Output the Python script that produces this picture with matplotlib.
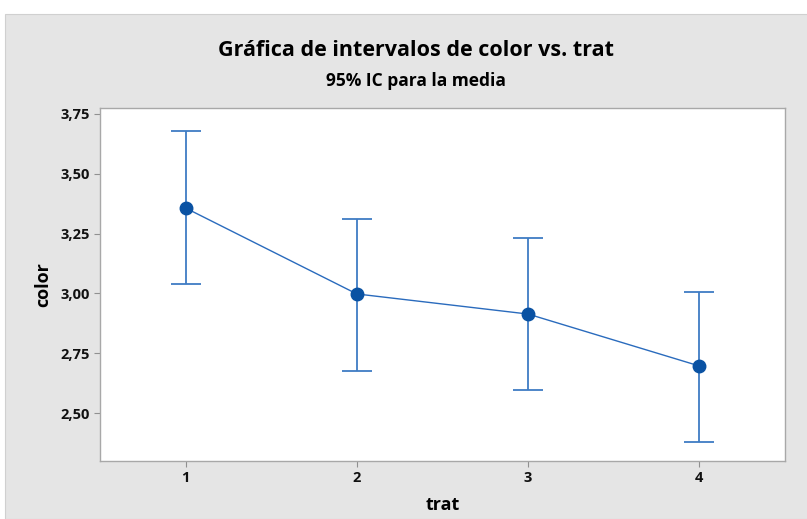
import matplotlib
matplotlib.use('Agg')
import matplotlib.pyplot as plt
import matplotlib.patches as mpatches

# Interval plot: mean of color per treatment with 95% CI
trat = [1, 2, 3, 4]
means = [3.357, 2.998, 2.914, 2.697]
ci_lower = [3.039, 2.678, 2.596, 2.379]
ci_upper = [3.677, 3.312, 3.233, 3.008]
yticks = [2.50, 2.75, 3.00, 3.25, 3.50, 3.75]

plt.rcParams['font.family'] = ['Open Sans', 'DejaVu Sans']

fig = plt.figure(figsize=(8.07, 5.19), dpi=100, facecolor='white')
fig.patches.append(mpatches.Rectangle((5 / 807, 0), 1, 1 - 14 / 519,
                                      transform=fig.transFigure,
                                      facecolor='#e5e5e5', edgecolor='#d0d0d0',
                                      linewidth=0.8, zorder=-5))

ax = fig.add_axes([100 / 807, 1 - 461 / 519, 685 / 807, 353 / 519])
ax.set_facecolor('white')

err_low = [m - lo for m, lo in zip(means, ci_lower)]
err_high = [hi - m for m, hi in zip(means, ci_upper)]
ax.errorbar(trat, means, yerr=[err_low, err_high], fmt='none',
            ecolor='#3f7cc4', elinewidth=1.3, capsize=11, capthick=1.3, zorder=2)
ax.plot(trat, means, color='#2a6bbd', linewidth=1.0, zorder=3)
ax.plot(trat, means, 'o', color='#0a52a3', markersize=9, zorder=4)

ax.set_xlim(0.5, 4.5)
ax.set_ylim(2.30, 3.775)
ax.set_xticks(trat)
ax.set_xticklabels([str(t) for t in trat])
ax.set_yticks(yticks)
ax.set_yticklabels([f"{v:.2f}".replace('.', ',') for v in yticks])

for s in ax.spines.values():
    s.set_color('#a8a8a8')
    s.set_linewidth(1.0)
ax.tick_params(direction='out', length=4, color='#909090', labelsize=10.5,
               labelcolor='#111111', pad=3)
for lbl in ax.get_xticklabels() + ax.get_yticklabels():
    lbl.set_fontweight('bold')

ax.set_xlabel('trat', fontsize=13, fontweight='bold', labelpad=8)
ax.set_ylabel('color', fontsize=13, fontweight='bold', labelpad=6)

fig.text(0.515, 1 - 50 / 519, 'Gráfica de intervalos de color vs. trat',
         ha='center', va='center', fontsize=15.5, fontweight='bold')
fig.text(0.515, 1 - 81 / 519, '95% IC para la media',
         ha='center', va='center', fontsize=12.5, fontweight='bold')

plt.savefig('out.png', dpi=100, facecolor='white')
plt.close(fig)
